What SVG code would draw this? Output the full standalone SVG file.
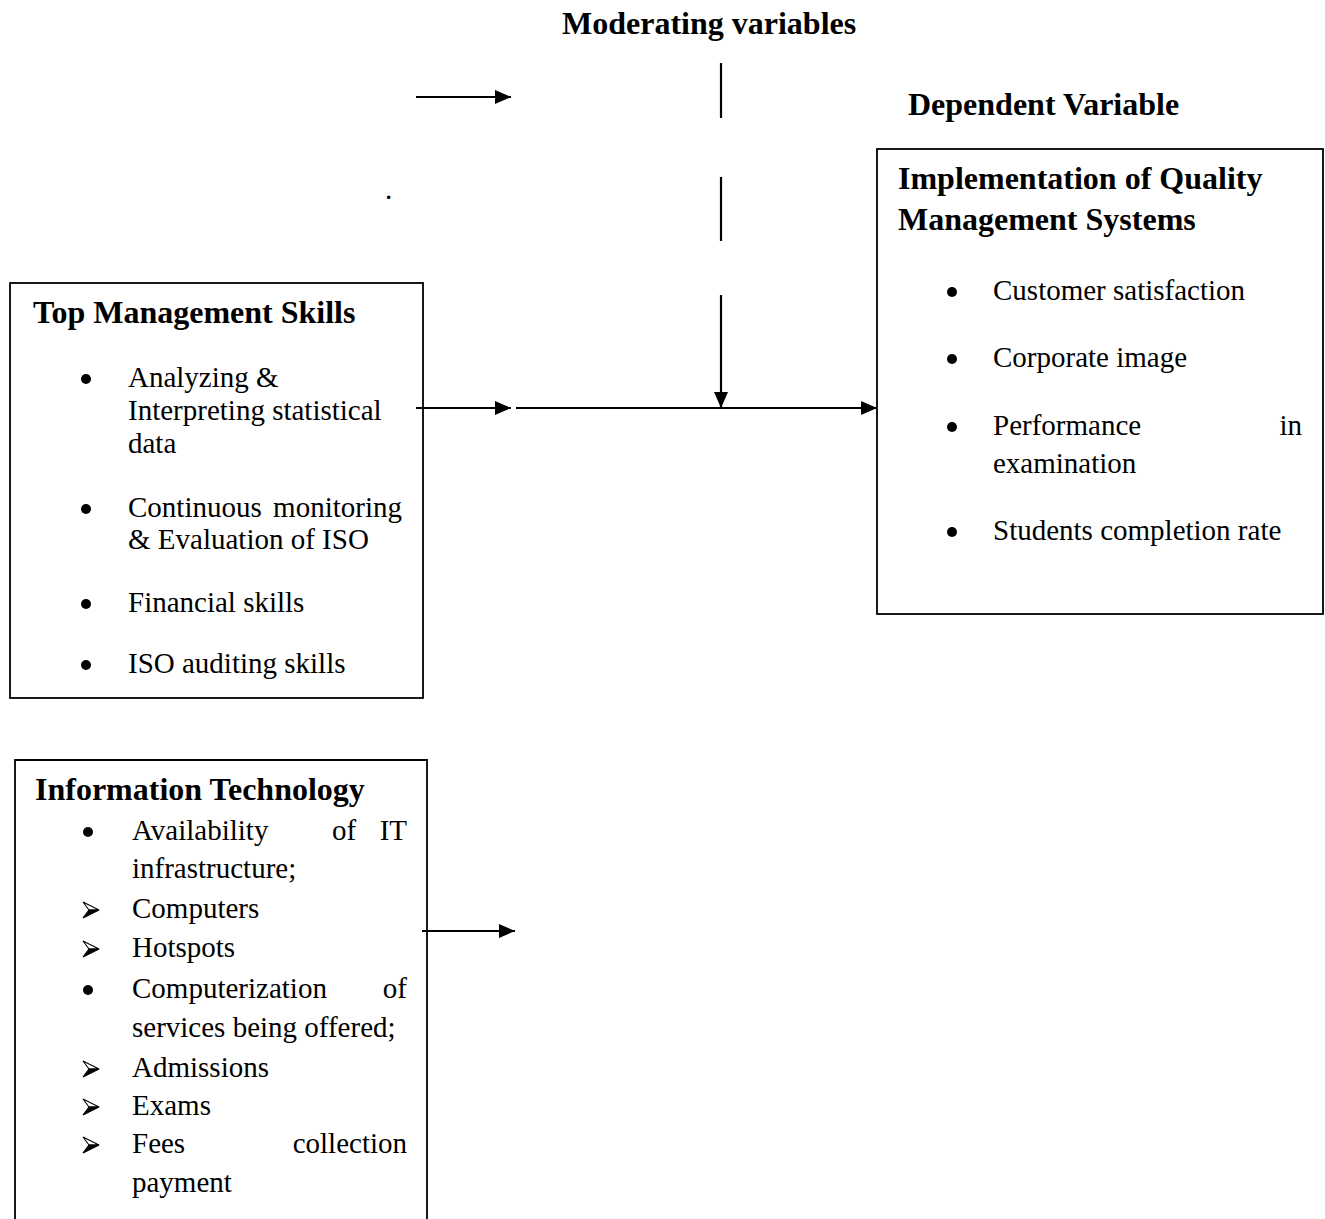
<svg xmlns="http://www.w3.org/2000/svg" width="1325" height="1219" viewBox="0 0 1325 1219">
<style>
text{font-family:"Liberation Serif","Times New Roman",serif;fill:#000}
.h{font-size:32px;font-weight:bold}
.b{font-size:29px}
.box{fill:none;stroke:#000;stroke-width:1.8}
.ln{stroke:#000;stroke-width:2.2;fill:none}
</style>
<defs>
<marker id="ah" markerUnits="userSpaceOnUse" markerWidth="17" markerHeight="15" refX="16" refY="7.5" orient="auto">
<path d="M0,0.5 L16,7.5 L0,14.5 Z" fill="#000"/>
</marker>
<g id="arr">
<path d="M0,-8 L16,0 L6,0 Z" fill="#fff" stroke="#000" stroke-width="1.1" stroke-linejoin="miter"/>
<path d="M6,0 L16,0 L0,8 Z" fill="#000" stroke="#000" stroke-width="1.1"/>
</g>
</defs>

<g id="labels">
<text class="h" x="562" y="34">Moderating variables</text>
<text class="h" x="908" y="115">Dependent Variable</text>
<text class="b" x="385" y="199">.</text>
</g>

<g id="connectors">
<line class="ln" x1="416" y1="97" x2="511" y2="97" marker-end="url(#ah)"/>
<line class="ln" x1="721" y1="63" x2="721" y2="118"/>
<line class="ln" x1="721" y1="177" x2="721" y2="241"/>
<line class="ln" x1="721" y1="295" x2="721" y2="408" marker-end="url(#ah)"/>
<line class="ln" x1="416" y1="408" x2="511" y2="408" marker-end="url(#ah)"/>
<line class="ln" x1="516" y1="408" x2="877" y2="408" marker-end="url(#ah)"/>
<line class="ln" x1="422" y1="931" x2="515" y2="931" marker-end="url(#ah)"/>
</g>

<g id="top-management">
<rect class="box" x="10" y="283" width="413" height="415"/>
<text class="h" x="33" y="323">Top Management Skills</text>
<circle cx="86" cy="379" r="5"/>
<text class="b" x="128" y="387">Analyzing &amp;</text>
<text class="b" x="128" y="420">Interpreting statistical</text>
<text class="b" x="128" y="453">data</text>
<circle cx="86" cy="509" r="5"/>
<text class="b" x="128" y="517">Continuous</text>
<text class="b" x="402" y="517" text-anchor="end">monitoring</text>
<text class="b" x="128" y="549">&amp; Evaluation of ISO</text>
<circle cx="86" cy="604" r="5"/>
<text class="b" x="128" y="612">Financial skills</text>
<circle cx="86" cy="665" r="5"/>
<text class="b" x="128" y="673">ISO auditing skills</text>
</g>

<g id="information-technology">
<path class="box" d="M15,1219 L15,760 L427,760 L427,1219"/>
<text class="h" x="35" y="800">Information Technology</text>
<circle cx="88" cy="832" r="5"/>
<text class="b" x="132" y="840">Availability</text>
<text class="b" x="344" y="840" text-anchor="middle">of</text>
<text class="b" x="407" y="840" text-anchor="end">IT</text>
<text class="b" x="132" y="878">infrastructure;</text>
<use href="#arr" x="83" y="910"/>
<text class="b" x="132" y="918">Computers</text>
<use href="#arr" x="83" y="949"/>
<text class="b" x="132" y="957">Hotspots</text>
<circle cx="88" cy="990" r="5"/>
<text class="b" x="132" y="998">Computerization</text>
<text class="b" x="407" y="998" text-anchor="end">of</text>
<text class="b" x="132" y="1037">services being offered;</text>
<use href="#arr" x="83" y="1069"/>
<text class="b" x="132" y="1077">Admissions</text>
<use href="#arr" x="83" y="1107"/>
<text class="b" x="132" y="1115">Exams</text>
<use href="#arr" x="83" y="1145"/>
<text class="b" x="132" y="1153">Fees</text>
<text class="b" x="407" y="1153" text-anchor="end">collection</text>
<text class="b" x="132" y="1192">payment</text>
</g>

<g id="qms">
<rect class="box" x="877" y="149" width="446" height="465"/>
<text class="h" x="898" y="189">Implementation of Quality</text>
<text class="h" x="898" y="230">Management Systems</text>
<circle cx="952" cy="292" r="5"/>
<text class="b" x="993" y="300">Customer satisfaction</text>
<circle cx="952" cy="359" r="5"/>
<text class="b" x="993" y="367">Corporate image</text>
<circle cx="952" cy="427" r="5"/>
<text class="b" x="993" y="435">Performance</text>
<text class="b" x="1302" y="435" text-anchor="end">in</text>
<text class="b" x="993" y="473">examination</text>
<circle cx="952" cy="532" r="5"/>
<text class="b" x="993" y="540">Students completion rate</text>
</g>
</svg>
